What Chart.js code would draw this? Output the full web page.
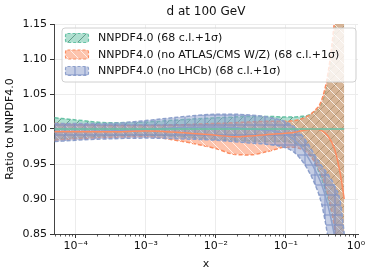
<!DOCTYPE html>
<html>
<head>
<meta charset="utf-8">
<script src="https://cdn.jsdelivr.net/npm/chart.js@4.4.0/dist/chart.umd.min.js"></script>
<style>html,body{margin:0;padding:0;background:#fff}</style>
</head>
<body>
<canvas id="ratio" width="374" height="275"></canvas>
<script>
// x grid and band edges
var xs = [5e-5, 1e-4, 3e-4, 1e-3, 3e-3, 1e-2, 0.018, 0.03, 0.056, 0.1, 0.13, 0.16, 0.2, 0.25, 0.32, 0.4, 0.5, 0.6, 0.68];

var greenHi  = [1.016, 1.013, 1.009, 1.010, 1.013, 1.016, 1.017, 1.018, 1.018, 1.017, 1.017, 1.018, 1.019, 1.024, 1.035, 1.07, 1.14, 1.25, 1.32];
var greenLo  = [0.985, 0.987, 0.990, 0.991, 0.989, 0.985, 0.984, 0.983, 0.982, 0.982, 0.980, 0.977, 0.970, 0.955, 0.930, 0.900, 0.855, 0.78, 0.72];
var greenMid = [1, 1, 1, 1, 1, 1, 1, 1, 1, 1, 1, 1, 1, 1, 1, 1, 1, 1, 1];

var orangeHi  = [1.008, 1.007, 1.005, 1.005, 1.006, 1.008, 1.009, 1.010, 1.011, 1.011, 1.012, 1.014, 1.018, 1.025, 1.040, 1.08, 1.16, 1.26, 1.34];
var orangeLo  = [0.984, 0.986, 0.988, 0.989, 0.983, 0.972, 0.964, 0.963, 0.968, 0.974, 0.974, 0.972, 0.966, 0.955, 0.935, 0.905, 0.855, 0.78, 0.72];
var orangeMid = [0.996, 0.996, 0.996, 0.997, 0.995, 0.991, 0.989, 0.990, 0.992, 0.994, 0.995, 0.997, 0.999, 1.000, 0.998, 0.99, 0.97, 0.935, 0.90];

var blueHi  = [1.008, 1.008, 1.008, 1.012, 1.017, 1.021, 1.021, 1.020, 1.017, 1.010, 1.003, 0.994, 0.981, 0.965, 0.948, 0.935, 0.918, 0.895, 0.85];
var blueLo  = [0.982, 0.984, 0.986, 0.987, 0.986, 0.984, 0.982, 0.980, 0.978, 0.973, 0.967, 0.958, 0.944, 0.925, 0.895, 0.845, 0.78, 0.72, 0.68];
var blueMid = [0.995, 0.996, 0.997, 0.999, 1.002, 1.003, 1.002, 1.000, 0.998, 0.992, 0.985, 0.976, 0.962, 0.945, 0.922, 0.89, 0.845, 0.80, 0.77];

var labels = ['NNPDF4.0 (68 c.l.+1σ)', 'NNPDF4.0 (no ATLAS/CMS W/Z) (68 c.l.+1σ)', 'NNPDF4.0 (no LHCb) (68 c.l.+1σ)'];
var rgbs = ['102,194,165', '252,141,98', '141,160,203'];
var hatches = ['/', '\\', '+'];
var majorX = [1e-4, 1e-3, 1e-2, 1e-1, 1];
var supers = {'-4': '⁻⁴', '-3': '⁻³', '-2': '⁻²', '-1': '⁻¹', '0': '⁰'};

Chart.defaults.font.family = 'DejaVu Sans';
Chart.defaults.font.size = 11;
Chart.defaults.color = '#222';

function hatch(rgb, kind) {
    var s = 10, c = document.createElement('canvas');
    c.width = s; c.height = s;
    var g = c.getContext('2d');
    g.fillStyle = 'rgba(' + rgb + ',0.52)';
    g.fillRect(0, 0, s, s);
    g.lineWidth = 1;
    g.beginPath();
    if (kind == '/') {
        g.moveTo(0, s); g.lineTo(s, 0);
        g.moveTo(-2, 2); g.lineTo(2, -2);
        g.moveTo(s - 2, s + 2); g.lineTo(s + 2, s - 2);
        g.strokeStyle = 'rgba(70,130,110,0.7)';
    } else if (kind == '\\') {
        g.moveTo(0, 0); g.lineTo(s, s);
        g.moveTo(s - 2, -2); g.lineTo(s + 2, 2);
        g.moveTo(-2, s - 2); g.lineTo(2, s + 2);
        g.strokeStyle = 'rgba(255,255,255,0.75)';
    } else {
        g.moveTo(0, s / 2); g.lineTo(s, s / 2);
        g.moveTo(s / 2, 0); g.lineTo(s / 2, s);
        g.strokeStyle = 'rgba(120,140,195,0.9)';
    }
    g.stroke();
    return g.createPattern(c, 'repeat');
}

function pts(ys) {
    return xs.map(function (x, i) { return {x: x, y: ys[i]}; });
}

var patterns = rgbs.map(function (c, i) { return hatch(c, hatches[i]); });

function band(i, hi, lo, mid, ord) {
    var col = 'rgb(' + rgbs[i] + ')';
    var common = {pointRadius: 0, cubicInterpolationMode: 'monotone', borderColor: col};
    return [
        Object.assign({label: labels[i], data: pts(hi), borderDash: [4, 2], borderWidth: 1.5,
            fill: '+1', backgroundColor: patterns[i], order: ord}, common),
        Object.assign({data: pts(lo), borderDash: [4, 2], borderWidth: 1.5, fill: false, order: ord}, common),
        Object.assign({data: pts(mid), borderWidth: 1.5, fill: false, order: 0}, common)
    ];
}

var datasets = [].concat(
    band(0, greenHi, greenLo, greenMid, 3),
    band(1, orangeHi, orangeLo, orangeMid, 2),
    band(2, blueHi, blueLo, blueMid, 1)
);

function isMajor(v) {
    return majorX.some(function (m) { return Math.abs(v / m - 1) < 1e-6; });
}

var extras = {
    id: 'extras',
    afterDraw: function (chart) {
        var ctx = chart.ctx, a = chart.chartArea, sx = chart.scales.x;
        ctx.save();
        // minor ticks on the log axis
        ctx.strokeStyle = '#333';
        ctx.lineWidth = 0.8;
        for (var e = -5; e < 0; e++) {
            for (var m = 2; m < 10; m++) {
                var v = m * Math.pow(10, e);
                if (v < sx.min || v > sx.max) continue;
                var px = Math.round(sx.getPixelForValue(v)) + 0.5;
                ctx.beginPath(); ctx.moveTo(px, a.bottom); ctx.lineTo(px, a.bottom + 2.5); ctx.stroke();
            }
        }
        // title
        ctx.fillStyle = '#111';
        ctx.font = '12px "DejaVu Sans"';
        ctx.textAlign = 'center';
        ctx.textBaseline = 'middle';
        ctx.fillText('d at 100 GeV', (a.left + a.right) / 2, 12);
        // legend box
        var bx = 62, by = 28, bw = 294, bh = 54;
        ctx.beginPath();
        ctx.roundRect(bx, by, bw, bh, 3);
        ctx.fillStyle = 'rgba(255,255,255,0.8)';
        ctx.fill();
        ctx.strokeStyle = '#d0d0d0';
        ctx.lineWidth = 1;
        ctx.stroke();
        ctx.textAlign = 'left';
        ctx.font = '11px "DejaVu Sans"';
        for (var i = 0; i < 3; i++) {
            var cy = 38 + i * 16.5;
            ctx.beginPath();
            ctx.roundRect(65.5, cy - 4.5, 23, 9, 2);
            ctx.fillStyle = patterns[i];
            ctx.fill();
            ctx.setLineDash([3, 2]);
            ctx.strokeStyle = 'rgb(' + rgbs[i] + ')';
            ctx.lineWidth = 1.2;
            ctx.stroke();
            ctx.setLineDash([]);
            ctx.fillStyle = '#111';
            ctx.fillText(labels[i], 98, cy + 0.5);
        }
        ctx.restore();
    }
};

var ctx = document.getElementById('ratio').getContext('2d');
var chart = new Chart(ctx, {
    type: 'line',
    data: {datasets: datasets},
    options: {
        responsive: false,
        animation: false,
        layout: {padding: {top: 24, right: 16, left: 0, bottom: 0}},
        plugins: {legend: {display: false}, tooltip: {enabled: false}},
        scales: {
            x: {
                type: 'logarithmic',
                min: 4.9e-5,
                max: 1.07,
                afterBuildTicks: function (scale) {
                    scale.ticks = majorX.map(function (v) { return {value: v, major: true}; });
                },
                afterFit: function (scale) { scale.height = 41; },
                ticks: {
                    autoSkip: false,
                    maxRotation: 0,
                    padding: 2,
                    color: '#111',
                    callback: function (v) {
                        var e = Math.round(Math.log10(v));
                        return isMajor(v) ? '10' + supers[String(e)] : '';
                    }
                },
                grid: {color: '#ececec', tickColor: '#333', tickLength: 4},
                border: {color: '#444', width: 1},
                title: {display: true, text: 'x', color: '#111', font: {size: 11}, padding: {top: 0, bottom: 4}}
            },
            y: {
                min: 0.85,
                max: 1.15,
                afterFit: function (scale) { scale.width = 54; },
                ticks: {
                    stepSize: 0.05,
                    padding: 3,
                    color: '#111',
                    callback: function (v) { return v.toFixed(2); }
                },
                grid: {color: '#ececec', tickColor: '#333', tickLength: 4},
                border: {color: '#444', width: 1},
                title: {display: true, text: 'Ratio to NNPDF4.0', color: '#111', font: {size: 11}, padding: {top: 4, bottom: 0}}
            }
        }
    },
    plugins: [extras]
});
</script>
</body>
</html>
